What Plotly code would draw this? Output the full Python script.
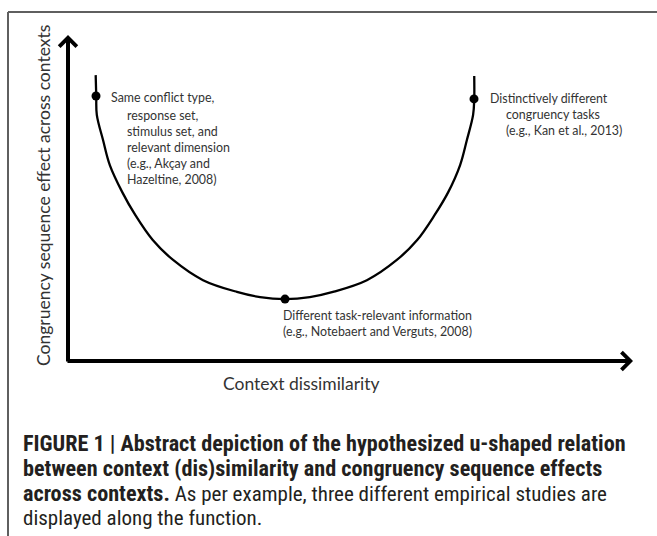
import plotly.graph_objects as go

# ---- data (abstract units: 0..100 on each axis) ----
curve_x = [4.9, 5.0, 5.1, 6.2, 7.4, 9.6, 11.9, 15.0, 18.6, 23.9, 29.9, 34.0, 38.4,
           42.8, 46.9, 52.9, 58.2, 61.8, 64.9, 67.3, 69.4, 70.6, 71.7, 71.9, 71.9]
curve_y = [87.7, 81.3, 75.5, 67.8, 60.1, 51.8, 44.8, 37.1, 31.0, 24.8, 21.2, 19.6, 19.0,
           19.6, 21.2, 24.8, 31.0, 37.1, 44.8, 51.8, 60.1, 67.8, 75.5, 80.4, 87.4]
point_x = [4.96, 38.41, 71.86]
point_y = [81.3, 19.0, 80.4]

x_title = "Context dissimilarity"
y_title = "Congruency sequence effect across contexts"
REG = "<span style='font-size:21px;font-weight:normal'>{}</span>"
caption_lines = [
    "<b>FIGURE 1 | Abstract depiction of the hypothesized u-shaped relation</b>",
    "<b>between context (dis)similarity and congruency sequence effects</b>",
    "<b>across contexts.</b>" + REG.format(" As per example, three different empirical studies are"),
    REG.format("displayed along the function."),
]

W, H = 657, 536
X_RANGE = [-12.035, 104.248]
Y_RANGE = [-53.68, 110.74]


def px(x):
    return x / W


def py(y):
    return 1 - y / H


BODY_FONT = "Lato, Carlito, Calibri, 'Open Sans', sans-serif"
CAP_FONT = "'Liberation Sans Narrow', 'Arial Narrow', 'Roboto Condensed', 'DejaVu Sans Condensed', sans-serif"

fig = go.Figure()
fig.add_trace(go.Scatter(x=curve_x, y=curve_y, mode="lines",
                         line=dict(color="black", width=2.3, shape="spline", smoothing=1.0),
                         hoverinfo="skip", showlegend=False))
fig.add_trace(go.Scatter(x=point_x, y=point_y, mode="markers",
                         marker=dict(color="black", size=9),
                         hoverinfo="skip", showlegend=False))

ann = []
# axes arrows
ann.append(dict(x=0, y=100, ax=0, ay=-0.62, xref="x", yref="y", axref="x", ayref="y",
                text="", showarrow=True, arrowhead=4, arrowsize=0.85, arrowwidth=4,
                arrowcolor="black", standoff=0))
ann.append(dict(x=100, y=0, ax=-0.36, ay=0, xref="x", yref="y", axref="x", ayref="y",
                text="", showarrow=True, arrowhead=4, arrowsize=0.85, arrowwidth=4,
                arrowcolor="black", standoff=0))

tcol = "#333333"
fs = 12.4
# left label
ann.append(dict(x=px(109), y=py(97), xref="paper", yref="paper", xanchor="left", yanchor="middle",
                text="Same conflict type,", showarrow=False, font=dict(family=BODY_FONT, size=fs, color=tcol)))
ann.append(dict(x=px(125), y=py(147), xref="paper", yref="paper", xanchor="left", yanchor="middle",
                align="left",
                text="response set,<br>stimulus set, and<br>relevant dimension<br>(e.g., Akçay and<br>Hazeltine, 2008)",
                showarrow=False, font=dict(family=BODY_FONT, size=fs, color=tcol)))
# right label
ann.append(dict(x=px(488), y=py(99), xref="paper", yref="paper", xanchor="left", yanchor="middle",
                text="Distinctively different", showarrow=False, font=dict(family=BODY_FONT, size=fs, color=tcol)))
ann.append(dict(x=px(504), y=py(123), xref="paper", yref="paper", xanchor="left", yanchor="middle",
                align="left", text="congruency tasks<br>(e.g., Kan et al., 2013)",
                showarrow=False, font=dict(family=BODY_FONT, size=fs, color=tcol)))
# bottom label
ann.append(dict(x=px(281), y=py(323.5), xref="paper", yref="paper", xanchor="left", yanchor="middle",
                align="left", text="Different task-relevant information<br>(e.g., Notebaert and Verguts, 2008)",
                showarrow=False, font=dict(family=BODY_FONT, size=fs, color=tcol)))
# axis titles
ann.append(dict(x=px(301), y=py(383), xref="paper", yref="paper", xanchor="center", yanchor="middle",
                text=x_title, showarrow=False, font=dict(family=BODY_FONT, size=17.5, color=tcol)))
ann.append(dict(x=px(43), y=py(196), xref="paper", yref="paper", xanchor="center", yanchor="middle",
                text=y_title, textangle=-90, showarrow=False, font=dict(family=BODY_FONT, size=17.5, color=tcol)))
# caption
cap_y = [443, 468, 493, 518]
for line, yy in zip(caption_lines, cap_y):
    ann.append(dict(x=px(21), y=py(yy), xref="paper", yref="paper", xanchor="left", yanchor="middle",
                    text=line, showarrow=False, align="left",
                    font=dict(family=CAP_FONT, size=22.2, color="#231f20")))

shapes = [
    dict(type="line", xref="paper", yref="paper", x0=px(8), x1=1.0, y0=py(12), y1=py(12),
         line=dict(color="#5f5f5f", width=2)),
    dict(type="line", xref="paper", yref="paper", x0=px(8), x1=px(8), y0=0, y1=py(12),
         line=dict(color="#5f5f5f", width=2)),
]

fig.update_layout(
    width=W, height=H, margin=dict(l=0, r=0, t=0, b=0),
    paper_bgcolor="white", plot_bgcolor="white",
    xaxis=dict(range=X_RANGE, visible=False, fixedrange=True),
    yaxis=dict(range=Y_RANGE, visible=False, fixedrange=True),
    annotations=ann, shapes=shapes, showlegend=False,
)

fig.write_html("out.html", config={"displayModeBar": False},
               post_script="document.body.style.margin='0';document.body.style.padding='0';")
